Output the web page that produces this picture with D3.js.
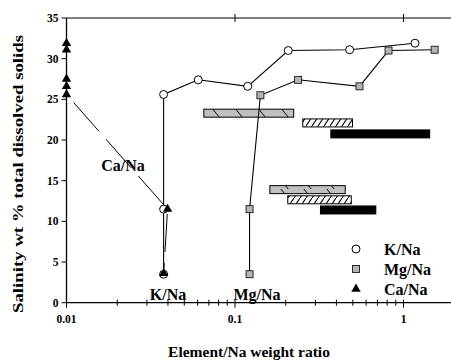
<!DOCTYPE html>
<html>
<head>
<meta charset="utf-8">
<script src="https://cdn.jsdelivr.net/npm/d3@7"></script>
<style>
  body { margin: 0; background: #fff; }
  svg { display: block; font-family: "Liberation Serif", "Times New Roman", serif; font-weight: bold; }
</style>
</head>
<body>
<svg id="chart" width="451" height="361"></svg>
<script>
// K/Na, Mg/Na, Ca/Na ratios vs salinity
const kNa = [
  { x: 0.0377, y: 3.5 }, { x: 0.0377, y: 11.5 }, { x: 0.0377, y: 25.6 },
  { x: 0.0605, y: 27.4 }, { x: 0.119, y: 26.6 }, { x: 0.207, y: 31.0 },
  { x: 0.479, y: 31.1 }, { x: 1.17, y: 31.9 }
];
const mgNa = [
  { x: 0.122, y: 3.5 }, { x: 0.122, y: 11.5 }, { x: 0.1415, y: 25.5 },
  { x: 0.237, y: 27.4 }, { x: 0.548, y: 26.6 }, { x: 0.815, y: 31.0 },
  { x: 1.53, y: 31.1 }
];
const caNa = [
  { x: 0.01, y: 31.9 }, { x: 0.01, y: 31.1 }, { x: 0.01, y: 27.5 },
  { x: 0.01, y: 26.6 }, { x: 0.01, y: 25.6 }, { x: 0.0398, y: 11.5 },
  { x: 0.0377, y: 3.6 }
];
// ranges: element ratio span at a salinity level
const ranges = [
  { kind: 'k', x0: 0.0653, x1: 0.223, y: 23.3 },
  { kind: 'mg', x0: 0.2525, x1: 0.498, y: 22.1 },
  { kind: 'ca', x0: 0.3705, x1: 1.43, y: 20.75 },
  { kind: 'k', x0: 0.161, x1: 0.451, y: 13.9 },
  { kind: 'mg', x0: 0.2057, x1: 0.49, y: 12.65 },
  { kind: 'ca', x0: 0.3215, x1: 0.685, y: 11.4 }
];
const yTicks = [0, 5, 10, 15, 20, 25, 30, 35];
const xMajor = [0.01, 0.1, 1];
const xMinor = [0.02, 0.03, 0.04, 0.05, 0.06, 0.07, 0.08, 0.09,
                0.2, 0.3, 0.4, 0.5, 0.6, 0.7, 0.8, 0.9];
const legendItems = ['K/Na', 'Mg/Na', 'Ca/Na'];

const svg = d3.select('#chart');
const pLeft = 66.5, pRight = 451, pTop = 18, pBottom = 302.7;

const x = d3.scaleLog().domain([0.01, Math.pow(10, (pRight - pLeft) / 168.5 - 2)]).range([pLeft, pRight]);
const y = d3.scaleLinear().domain([0, 35]).range([pBottom, pTop]);

const defs = svg.append('defs');
const pk = defs.append('pattern').attr('id', 'hatchK').attr('patternUnits', 'userSpaceOnUse')
  .attr('width', 23).attr('height', 9);
pk.append('rect').attr('width', 23).attr('height', 9).attr('fill', '#c0c0c0');
pk.append('line').attr('x1', 4).attr('y1', -1).attr('x2', 13).attr('y2', 10)
  .attr('stroke', '#000').attr('stroke-width', 1);
const pm = defs.append('pattern').attr('id', 'hatchMg').attr('patternUnits', 'userSpaceOnUse')
  .attr('width', 6).attr('height', 9);
pm.append('rect').attr('width', 6).attr('height', 9).attr('fill', '#fff');
pm.append('line').attr('x1', 0).attr('y1', 9).attr('x2', 6).attr('y2', 0)
  .attr('stroke', '#000').attr('stroke-width', 1.1);

// axes
svg.append('line').attr('x1', pLeft).attr('x2', pRight).attr('y1', y(0)).attr('y2', y(0))
  .attr('stroke', '#000').attr('stroke-width', 1.3);
svg.append('line').attr('x1', pLeft).attr('x2', pRight).attr('y1', y(35)).attr('y2', y(35))
  .attr('stroke', '#000');
svg.append('line').attr('x1', pLeft).attr('x2', pLeft).attr('y1', y(0)).attr('y2', y(35))
  .attr('stroke', '#000').attr('stroke-width', 1.3);

svg.selectAll('.ytick').data(yTicks).enter().append('line')
  .attr('x1', pLeft - 5).attr('x2', pLeft).attr('y1', d => y(d)).attr('y2', d => y(d))
  .attr('stroke', '#000');
svg.selectAll('.ylab').data(yTicks).enter().append('text')
  .attr('x', pLeft - 8).attr('y', d => y(d) + 4).attr('text-anchor', 'end')
  .attr('font-size', 11.5).text(d => d);

svg.selectAll('.xmin').data(xMinor).enter().append('line')
  .attr('x1', d => x(d)).attr('x2', d => x(d)).attr('y1', pBottom - 3).attr('y2', pBottom + 3)
  .attr('stroke', '#000');
svg.selectAll('.xmaj').data(xMajor).enter().append('line')
  .attr('x1', d => x(d)).attr('x2', d => x(d)).attr('y1', pBottom - 3).attr('y2', pBottom + 5)
  .attr('stroke', '#000');
svg.selectAll('.xtop').data(xMajor.slice(1)).enter().append('line')
  .attr('x1', d => x(d)).attr('x2', d => x(d)).attr('y1', pTop - 4).attr('y2', pTop + 4)
  .attr('stroke', '#000');
svg.selectAll('.xlab').data(xMajor).enter().append('text')
  .attr('x', d => x(d)).attr('y', pBottom + 20).attr('text-anchor', 'middle')
  .attr('font-size', 11.5).text(d => d);

svg.append('text').attr('x', 249).attr('y', 357).attr('text-anchor', 'middle')
  .attr('font-size', 15.5).text('Element/Na weight ratio');
svg.append('text').attr('transform', 'translate(23,174) rotate(-90)').attr('text-anchor', 'middle')
  .attr('font-size', 15).attr('textLength', 278).attr('lengthAdjust', 'spacingAndGlyphs')
  .text('Salinity wt % total dissolved solids');

// range bars
const barH = 8;
svg.selectAll('.range').data(ranges).enter().append('rect')
  .attr('x', d => x(d.x0)).attr('width', d => x(d.x1) - x(d.x0))
  .attr('y', d => y(d.y) - barH / 2).attr('height', barH)
  .attr('fill', d => d.kind === 'k' ? 'url(#hatchK)' : d.kind === 'mg' ? 'url(#hatchMg)' : '#000')
  .attr('stroke', '#000').attr('stroke-width', 1);

// series lines
const line = d3.line().x(d => x(d.x)).y(d => y(d.y));
svg.append('path').datum(caNa).attr('d', line).attr('fill', 'none')
  .attr('stroke', '#000').attr('stroke-width', 1)
  .attr('stroke-dasharray', '38,11').attr('stroke-dashoffset', 36);
svg.append('path').datum(kNa).attr('d', line).attr('fill', 'none')
  .attr('stroke', '#000').attr('stroke-width', 1.1);
svg.append('path').datum(mgNa).attr('d', line).attr('fill', 'none')
  .attr('stroke', '#000').attr('stroke-width', 1.1);

// markers
const tri = d3.symbol().type(d3.symbolTriangle).size(38);
svg.selectAll('.mg').data(mgNa).enter().append('rect')
  .attr('x', d => x(d.x) - 3.5).attr('y', d => y(d.y) - 3.5).attr('width', 7).attr('height', 7)
  .attr('fill', '#b4b4b4').attr('stroke', '#000').attr('stroke-width', 0.8);
svg.selectAll('.k').data(kNa).enter().append('circle')
  .attr('cx', d => x(d.x)).attr('cy', d => y(d.y)).attr('r', 4)
  .attr('fill', '#fff').attr('stroke', '#000').attr('stroke-width', 1);
svg.selectAll('.ca').data(caNa).enter().append('path')
  .attr('d', tri).attr('transform', d => `translate(${x(d.x)},${y(d.y)})`).attr('fill', '#000');

// in-plot labels
svg.append('text').attr('x', 123).attr('y', 171).attr('text-anchor', 'middle').attr('font-size', 16).text('Ca/Na');
svg.append('text').attr('x', 168).attr('y', 300).attr('text-anchor', 'middle').attr('font-size', 16).text('K/Na');
svg.append('text').attr('x', 257).attr('y', 300).attr('text-anchor', 'middle').attr('font-size', 16).text('Mg/Na');

// legend
const lg = svg.append('g').attr('transform', 'translate(356,249)');
lg.selectAll('text').data(legendItems).enter().append('text')
  .attr('x', 28).attr('y', (d, i) => i * 20 + 5.5).attr('font-size', 16).text(d => d);
lg.append('circle').attr('cx', 0).attr('cy', 0).attr('r', 4).attr('fill', '#fff').attr('stroke', '#000');
lg.append('rect').attr('x', -3.5).attr('y', 16.5).attr('width', 7).attr('height', 7)
  .attr('fill', '#b4b4b4').attr('stroke', '#000').attr('stroke-width', 0.8);
lg.append('path').attr('d', tri).attr('transform', 'translate(0,40)').attr('fill', '#000');
</script>
</body>
</html>
